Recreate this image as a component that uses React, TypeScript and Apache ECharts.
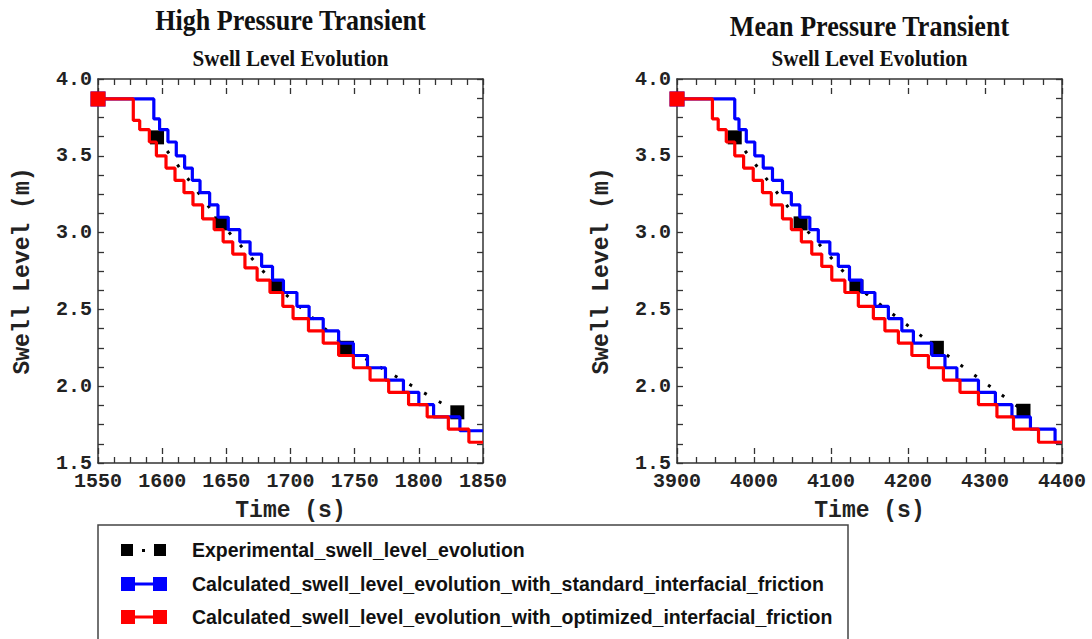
import React, { useEffect, useRef } from "react";
import * as echarts from "echarts";

// ---------------- DATA ----------------
const EXP_NAME = "Experimental_swell_level_evolution";
const STD_NAME = "Calculated_swell_level_evolution_with_standard_interfacial_friction";
const OPT_NAME = "Calculated_swell_level_evolution_with_optimized_interfacial_friction";

// High pressure transient (left)
const leftBlueTimes = [1550, 1593.5, 1598, 1604.5, 1611, 1617.5, 1623.5, 1629.5, 1637, 1643.5, 1651.5, 1660.5, 1668.5, 1677.5, 1686, 1694.5, 1705, 1714.5, 1725.5, 1737.5, 1749, 1760, 1774, 1788, 1800, 1811.5, 1832];
const leftBlueLevels = [3.87, 3.74, 3.67, 3.59, 3.5, 3.42, 3.34, 3.26, 3.18, 3.1, 3.02, 2.94, 2.86, 2.78, 2.69, 2.61, 2.52, 2.44, 2.36, 2.28, 2.2, 2.12, 2.04, 1.96, 1.88, 1.8, 1.71];
const leftRedTimes = [1550, 1577.5, 1582.5, 1590, 1595.5, 1603, 1610, 1617, 1624, 1631.5, 1640.5, 1647.5, 1655, 1664.5, 1674, 1684, 1694, 1702, 1714, 1725.5, 1737.5, 1749, 1762, 1776.5, 1792, 1806.5, 1823, 1839];
const leftRedLevels = [3.87, 3.73, 3.67, 3.59, 3.5, 3.42, 3.34, 3.26, 3.18, 3.09, 3.02, 2.94, 2.86, 2.77, 2.69, 2.61, 2.52, 2.44, 2.36, 2.28, 2.2, 2.12, 2.04, 1.96, 1.88, 1.8, 1.72, 1.635];
const leftExpTimes = [1596, 1646, 1689, 1744, 1830];
const leftExpLevels = [3.62, 3.06, 2.65, 2.25, 1.83];

// Mean pressure transient (right)
const rightBlueTimes = [3900, 3975, 3980.5, 3990, 4001, 4012, 4024, 4037, 4048.5, 4059.5, 4072.5, 4083.5, 4098.5, 4109.5, 4124, 4140, 4157, 4174.5, 4192, 4207, 4231, 4248, 4263.5, 4291.5, 4313.5, 4335, 4359, 4391];
const rightBlueLevels = [3.87, 3.74, 3.67, 3.59, 3.5, 3.42, 3.34, 3.26, 3.18, 3.1, 3.02, 2.94, 2.86, 2.78, 2.69, 2.61, 2.52, 2.44, 2.36, 2.28, 2.2, 2.12, 2.04, 1.96, 1.88, 1.8, 1.72, 1.635];
const rightRedTimes = [3900, 3946, 3953.5, 3964, 3975, 3986.5, 3999, 4011, 4022.5, 4037, 4048.5, 4061.5, 4075, 4088, 4101, 4118, 4135.5, 4155, 4170, 4187.5, 4205, 4226.5, 4246, 4267.5, 4291.5, 4315.5, 4337, 4369.5];
const rightRedLevels = [3.87, 3.74, 3.67, 3.59, 3.5, 3.42, 3.34, 3.26, 3.18, 3.09, 3.02, 2.94, 2.86, 2.78, 2.69, 2.61, 2.52, 2.44, 2.36, 2.28, 2.2, 2.12, 2.04, 1.96, 1.88, 1.8, 1.72, 1.635];
const rightExpTimes = [3975, 4060.5, 4133, 4237.5, 4350];
const rightExpLevels = [3.62, 3.06, 2.65, 2.25, 1.84];

const panelTitles = ["High Pressure Transient", "Mean Pressure Transient"];
const panelSubtitle = "Swell Level Evolution";
const xRanges = [
  { min: 1550, max: 1850, interval: 50 },
  { min: 3900, max: 4400, interval: 100 },
];
const yRange = { min: 1.5, max: 4.0, interval: 0.5 };

// ---------------- STYLE ----------------
const MONO = '"Liberation Mono", "DejaVu Sans Mono", monospace';
const SERIF = '"Liberation Serif", "DejaVu Serif", serif';
const SANS = '"Liberation Sans", Arial, sans-serif';
const AXIS_COLOR = "#333";
const BLUE = "#0000ff";
const RED = "#ff0000";

const grids = [
  { left: 98, top: 79, width: 385, height: 384 },
  { left: 677, top: 79, width: 385, height: 384 },
];

function stepData(times: number[], levels: number[], end: number, markerSize: number) {
  const d: any[] = times.map((t, i) =>
    i === 0
      ? { value: [t, levels[i]], symbol: "rect", symbolSize: markerSize }
      : { value: [t, levels[i]] }
  );
  d.push({ value: [end, levels[levels.length - 1]] });
  return d;
}

export default function App() {
  const ref = useRef<HTMLDivElement>(null);
  useEffect(() => {
    if (!ref.current) return;
    const chart = echarts.init(ref.current, undefined, { renderer: "svg" });

    const xAxes: any[] = [];
    const yAxes: any[] = [];
    grids.forEach((_, gi) => {
      const xr = xRanges[gi];
      const baseX = {
        gridIndex: gi,
        type: "value",
        min: xr.min,
        max: xr.max,
        interval: xr.interval,
        splitLine: { show: false },
        axisLine: { show: true, onZero: false, lineStyle: { color: AXIS_COLOR, width: 1.5 } },
        axisTick: { show: true, inside: true, length: 15, lineStyle: { color: AXIS_COLOR, width: 1.3, type: [6, 3] } },
        minorTick: { show: true, splitNumber: 4, length: 6, lineStyle: { color: AXIS_COLOR, width: 1.3 } },
      };
      xAxes.push({
        ...baseX,
        position: "bottom",
        axisLabel: {
          show: true,
          fontFamily: MONO,
          fontWeight: "bold",
          fontSize: 20,
          lineHeight: 17,
          color: "#222",
          margin: 10,
          formatter: (v: number) => String(Math.round(v)),
        },
        name: "Time (s)",
        nameLocation: "middle",
        nameGap: 36,
        nameTextStyle: { fontFamily: MONO, fontWeight: "bold", fontSize: 23, color: "#222" },
      });
      xAxes.push({ ...baseX, position: "top", axisLabel: { show: false } });
      const baseY = {
        gridIndex: gi,
        type: "value",
        min: yRange.min,
        max: yRange.max,
        interval: yRange.interval,
        splitLine: { show: false },
        axisLine: { show: true, onZero: false, lineStyle: { color: AXIS_COLOR, width: 1.5 } },
        axisTick: { show: true, inside: true, length: 6, lineStyle: { color: AXIS_COLOR, width: 1.3 } },
        minorTick: { show: true, splitNumber: 4, length: 6, lineStyle: { color: AXIS_COLOR, width: 1.3 } },
      };
      yAxes.push({
        ...baseY,
        position: "left",
        axisLabel: {
          show: true,
          fontFamily: MONO,
          fontWeight: "bold",
          fontSize: 20,
          lineHeight: 15,
          color: "#222",
          margin: 6,
          formatter: (v: number) => v.toFixed(1),
        },
        name: "Swell Level (m)",
        nameLocation: "middle",
        nameGap: 64,
        nameTextStyle: { fontFamily: MONO, fontWeight: "bold", fontSize: 23, color: "#222" },
      });
      yAxes.push({ ...baseY, position: "right", axisLabel: { show: false } });
    });

    const panels = [
      { exT: leftExpTimes, exV: leftExpLevels, bT: leftBlueTimes, bV: leftBlueLevels, rT: leftRedTimes, rV: leftRedLevels },
      { exT: rightExpTimes, exV: rightExpLevels, bT: rightBlueTimes, bV: rightBlueLevels, rT: rightRedTimes, rV: rightRedLevels },
    ];
    const series: any[] = [];
    panels.forEach((p, gi) => {
      const xi = gi * 2;
      const yi = gi * 2;
      series.push({
        name: EXP_NAME,
        type: "line",
        xAxisIndex: xi,
        yAxisIndex: yi,
        data: p.exT.map((t, i) => [t, p.exV[i]]),
        symbol: "rect",
        symbolSize: 14,
        itemStyle: { color: "#000" },
        lineStyle: { color: "#000", width: 3, type: [3, 14] },
        clip: false,
        z: 2,
      });
      series.push({
        name: STD_NAME,
        type: "line",
        step: "end",
        xAxisIndex: xi,
        yAxisIndex: yi,
        data: stepData(p.bT, p.bV, xRanges[gi].max, 15),
        symbol: "none",
        showSymbol: true,
        itemStyle: { color: BLUE },
        lineStyle: { color: BLUE, width: 3.2 },
        clip: false,
        z: 3,
      });
      series.push({
        name: OPT_NAME,
        type: "line",
        step: "end",
        xAxisIndex: xi,
        yAxisIndex: yi,
        data: stepData(p.rT, p.rV, xRanges[gi].max, 15),
        symbol: "none",
        showSymbol: true,
        itemStyle: { color: RED },
        lineStyle: { color: RED, width: 3.2 },
        clip: false,
        z: 4,
      });
    });

    const titleCenters = [290.5, 869.5];
    const titleY = [20, 26];
    const graphic: any[] = [];
    titleCenters.forEach((cx, i) => {
      graphic.push({
        type: "text",
        x: cx,
        y: titleY[i],
        scaleX: 0.9,
        style: { text: panelTitles[i], font: `bold 29px ${SERIF}`, fill: "#111", align: "center", verticalAlign: "middle" },
      });
      graphic.push({
        type: "text",
        x: cx,
        y: 58,
        scaleX: 0.88,
        style: { text: panelSubtitle, font: `bold 24px ${SERIF}`, fill: "#111", align: "center", verticalAlign: "middle" },
      });
    });

    // Legend
    graphic.push({
      type: "rect",
      shape: { x: 98, y: 525, width: 750, height: 140 },
      style: { fill: "none", stroke: "#444", lineWidth: 1.5 },
    });
    const rows = [
      { y: 550, name: EXP_NAME, color: "#000", kind: "exp" },
      { y: 584, name: STD_NAME, color: BLUE, kind: "calc" },
      { y: 617, name: OPT_NAME, color: RED, kind: "calc" },
    ];
    rows.forEach((r) => {
      if (r.kind === "exp") {
        graphic.push({ type: "rect", shape: { x: 121, y: r.y - 6, width: 12, height: 12 }, style: { fill: r.color } });
        graphic.push({ type: "rect", shape: { x: 142, y: r.y - 1, width: 3, height: 3 }, style: { fill: r.color } });
        graphic.push({ type: "rect", shape: { x: 154, y: r.y - 6, width: 12, height: 12 }, style: { fill: r.color } });
      } else {
        graphic.push({ type: "rect", shape: { x: 121, y: r.y - 7, width: 14, height: 14 }, style: { fill: r.color } });
        graphic.push({ type: "rect", shape: { x: 134, y: r.y - 1.5, width: 20, height: 3 }, style: { fill: r.color } });
        graphic.push({ type: "rect", shape: { x: 153, y: r.y - 7, width: 14, height: 14 }, style: { fill: r.color } });
      }
      graphic.push({
        type: "text",
        x: 192,
        y: r.y,
        style: { text: r.name, font: `bold 19.5px ${SANS}`, fill: "#111", align: "left", verticalAlign: "middle" },
      });
    });

    chart.setOption({
      animation: false,
      backgroundColor: "#fff",
      grid: grids,
      xAxis: xAxes,
      yAxis: yAxes,
      series,
      graphic,
    });
    return () => chart.dispose();
  }, []);

  return (
    <div
      ref={ref}
      style={{ position: "absolute", left: 0, top: 0, width: 1092, height: 639, background: "#fff" }}
    />
  );
}
